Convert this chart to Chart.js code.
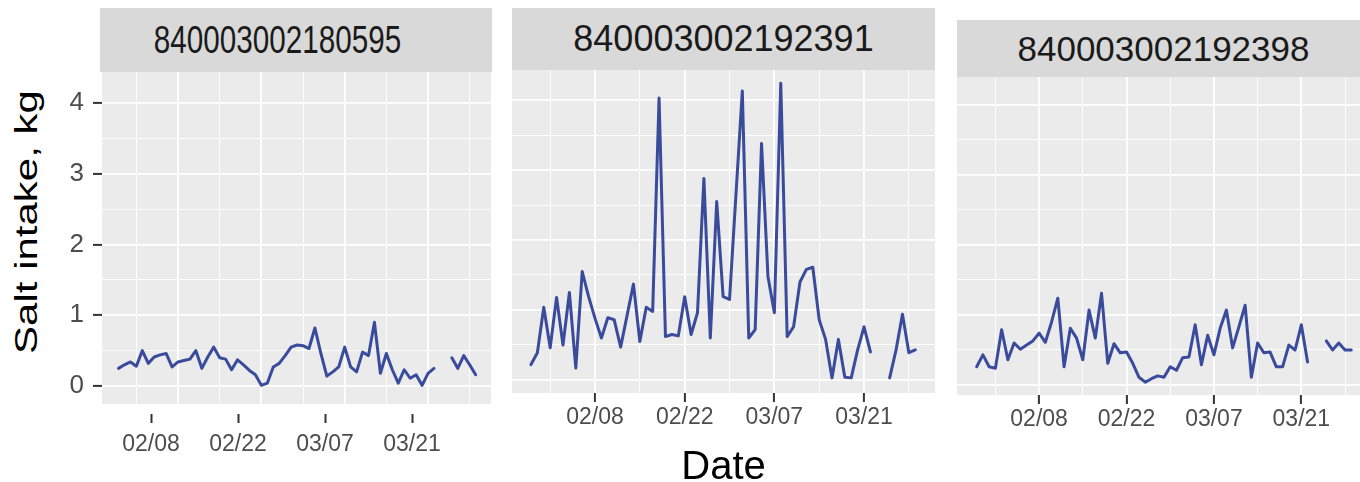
<!DOCTYPE html>
<html>
<head>
<meta charset="utf-8">
<script src="https://cdn.jsdelivr.net/npm/chart.js@4.4.1/dist/chart.umd.min.js"></script>
<style>
  html, body { margin: 0; padding: 0; width: 1360px; height: 482px; overflow: hidden; background: #fff; }
  .box { position: absolute; }
  .strip { position: absolute; background: #d9d9d9; color: #1a1a1a; font-family: 'Liberation Sans', Arial, sans-serif;
           display: flex; align-items: center; justify-content: center; white-space: nowrap; }
  .ytitle { position: absolute; left: 27px; top: 222px; color: #000; white-space: nowrap;
            font: 42px 'Liberation Sans', Arial, sans-serif;
            transform: translate(-50%, -50%) rotate(-90deg) scaleY(0.73); }
</style>
</head>
<body>
<div class="ytitle">Salt intake, kg</div>

<div class="strip" id="strip1" style="left:100px;top:8px;width:392px;height:64px;font-size:38px;"></div>
<div class="strip" id="strip2" style="left:512px;top:8px;width:423px;height:62px;font-size:36px;"></div>
<div class="strip" id="strip3" style="left:957px;top:20px;width:413px;height:57px;font-size:35px;"></div>

<div class="box" style="left:40px;top:72px;width:451px;height:410px;"><canvas id="panel1"></canvas></div>
<div class="box" style="left:512px;top:70px;width:423px;height:418px;"><canvas id="panel2"></canvas></div>
<div class="box" style="left:957px;top:77px;width:413px;height:405px;"><canvas id="panel3"></canvas></div>

<script>
// days are counted from 02/01 (day 0), every series starts on 01/29
const firstDay = -3;
const tickDays = [7, 21, 35, 49];
const tickLabels = ['02/08', '02/22', '03/07', '03/21'];
const minorDays = [0, 14, 28, 42, 56];
const yMajor = [0, 1, 2, 3, 4];
const yMinor = [0.5, 1.5, 2.5, 3.5];
const cowIds = ['840003002180595', '840003002192391', '840003002192398'];

// daily salt intake, kg (null = no record)
const salt595 = [0.25, 0.30, 0.34, 0.28, 0.50, 0.32, 0.41, 0.44, 0.46, 0.27,
                 0.34, 0.36, 0.38, 0.50, 0.25, 0.41, 0.55, 0.40, 0.38, 0.23,
                 0.37, 0.30, 0.22, 0.16, 0.01, 0.04, 0.27, 0.32, 0.43, 0.55,
                 0.58, 0.57, 0.53, 0.82, 0.46, 0.14, 0.20, 0.27, 0.55, 0.27,
                 0.20, 0.48, 0.43, 0.90, 0.18, 0.46, 0.23, 0.04, 0.23, 0.11,
                 0.16, 0.01, 0.18, 0.25, null, null, 0.40, 0.25, 0.43, 0.30, 0.16];
const salt391 = [0.22, 0.39, 1.04, 0.46, 1.18, 0.50, 1.25, 0.17, 1.55, 1.19,
                 0.88, 0.60, 0.89, 0.86, 0.47, 0.92, 1.37, 0.55, 1.04, 0.98,
                 4.03, 0.62, 0.65, 0.63, 1.19, 0.65, 0.96, 2.88, 0.60, 2.55,
                 1.19, 1.15, 2.64, 4.13, 0.60, 0.72, 3.38, 1.48, 0.96, 4.24,
                 0.62, 0.76, 1.40, 1.58, 1.61, 0.86, 0.58, 0.03, 0.58, 0.04,
                 0.03, 0.43, 0.76, 0.40, null, null, 0.03, 0.43, 0.94, 0.39, 0.43];
const salt398 = [0.26, 0.43, 0.26, 0.24, 0.79, 0.36, 0.60, 0.51, 0.57, 0.63,
                 0.74, 0.61, 0.90, 1.24, 0.26, 0.81, 0.67, 0.36, 1.07, 0.67,
                 1.31, 0.31, 0.59, 0.46, 0.47, 0.31, 0.11, 0.04, 0.09, 0.13,
                 0.11, 0.26, 0.21, 0.39, 0.40, 0.86, 0.29, 0.71, 0.43, 0.81,
                 1.07, 0.53, 0.83, 1.14, 0.11, 0.60, 0.46, 0.47, 0.26, 0.26,
                 0.57, 0.50, 0.86, 0.33, null, null, 0.63, 0.50, 0.60, 0.50, 0.50];

const lineBlue = '#3a4b9c';
const tickGrey = '#333333';
const labelGrey = '#4d4d4d';
const hidden = 'rgba(0,0,0,0)';

Chart.defaults.font.family = "'Liberation Sans', Arial, sans-serif";

// grey panel background like ggplot
const panelBg = {
    id: 'panelBg',
    beforeDraw(chart) {
        let a = chart.chartArea;
        let ctx = chart.ctx;
        ctx.save();
        ctx.fillStyle = '#ebebeb';
        ctx.fillRect(a.left, a.top, a.width, a.height);
        ctx.restore();
    }
};

function dayGrid(axis) {
    axis.ticks = minorDays.concat(tickDays).sort((a, b) => a - b).map(v => ({value: v}));
}
function dayTicksOnly(axis) {
    axis.ticks = tickDays.map(v => ({value: v}));
}
function valueGrid(axis) {
    axis.ticks = yMinor.concat(yMajor).sort((a, b) => a - b).map(v => ({value: v}));
}
function isMajorDay(c) { return !!c.tick && tickDays.includes(c.tick.value); }
function isMajorValue(c) { return !!c.tick && yMajor.includes(c.tick.value); }
function dayLabel(value) {
    let i = tickDays.indexOf(value);
    return i < 0 ? '' : tickLabels[i];
}
function fixSize(key, size) {
    return function (axis) {
        axis[key] = size;
        axis.paddingLeft = 0; axis.paddingRight = 0;
        axis.paddingTop = 0; axis.paddingBottom = 0;
    };
}

function buildPanel(canvasId, values, p) {
    let xScale = {
        type: 'linear', position: 'bottom', min: p.xMin, max: p.xMax, weight: 0,
        afterBuildTicks: dayGrid,
        afterFit: fixSize('height', p.xHeight),
        border: {display: false},
        grid: {
            color: '#fff',
            lineWidth: c => isMajorDay(c) ? 1.8 : 0.9,
            drawTicks: !p.labelAxis,
            tickColor: c => isMajorDay(c) ? tickGrey : hidden,
            tickLength: 9, tickWidth: 2
        },
        ticks: {
            display: !p.labelAxis, autoSkip: false, maxRotation: 0, padding: 2,
            color: labelGrey, font: {size: 23}, callback: dayLabel
        },
        title: {display: !!p.xTitle, text: p.xTitle || '', color: '#000', font: {size: 40, lineHeight: 1}, padding: 0}
    };

    let yScale = {
        type: 'linear', position: 'left', min: p.yMin, max: p.yMax,
        afterBuildTicks: valueGrid,
        afterFit: fixSize('width', p.showY ? 62 : 0),
        border: {display: false},
        grid: {
            color: '#fff',
            lineWidth: c => isMajorValue(c) ? 1.8 : 0.9,
            drawTicks: p.showY,
            tickColor: c => isMajorValue(c) ? tickGrey : hidden,
            tickLength: 9, tickWidth: 2
        },
        ticks: {
            display: p.showY, autoSkip: false, padding: 9,
            color: labelGrey, font: {size: 26},
            callback: v => yMajor.includes(v) ? String(v) : ''
        }
    };

    let scales = {x: xScale, y: yScale};

    // first panel: the date labels sit on their own axis, offset from the grid
    if (p.labelAxis) {
        scales.xLab = {
            type: 'linear', axis: 'x', position: 'bottom', weight: 1,
            min: p.labelAxis.min, max: p.labelAxis.max,
            afterBuildTicks: dayTicksOnly,
            afterFit: fixSize('height', p.labelAxis.height),
            border: {display: false},
            grid: {drawOnChartArea: false, tickColor: tickGrey, tickLength: 9, tickWidth: 2},
            ticks: {autoSkip: false, maxRotation: 0, padding: 8, color: labelGrey, font: {size: 23}, callback: dayLabel}
        };
    }

    let canvas = document.getElementById(canvasId);
    return new Chart(canvas.getContext('2d'), {
        type: 'line',
        data: {
            datasets: [{
                data: values.map((v, i) => ({x: firstDay + i, y: v})),
                borderColor: lineBlue,
                borderWidth: 3,
                borderJoinStyle: 'round',
                borderCapStyle: 'round',
                pointRadius: 0,
                tension: 0,
                spanGaps: false
            }]
        },
        options: {
            responsive: true,
            maintainAspectRatio: false,
            animation: false,
            events: [],
            layout: {padding: 0},
            plugins: {legend: {display: false}, tooltip: {enabled: false}},
            scales: scales
        },
        plugins: [panelBg]
    });
}

document.getElementById('strip1').innerHTML =
    '<span style="display:inline-block;transform:translateX(-18px) scaleX(0.78)">' + cowIds[0] + '</span>';
document.getElementById('strip2').textContent = cowIds[1];
document.getElementById('strip3').textContent = cowIds[2];

buildPanel('panel1', salt595, {
    xMin: -5.77, xMax: 59.58, xHeight: 10, yMin: -0.254, yMax: 4.438, showY: true,
    labelAxis: {min: -0.885, max: 61.71, height: 68}
});
buildPanel('panel2', salt391, {
    xMin: -5.96, xMax: 60.08, xHeight: 95, yMin: -0.186, yMax: 4.429, showY: false,
    xTitle: 'Date'
});
buildPanel('panel3', salt398, {
    xMin: -6.15, xMax: 60.0, xHeight: 87, yMin: -0.143, yMax: 4.4, showY: false
});
</script>
</body>
</html>
